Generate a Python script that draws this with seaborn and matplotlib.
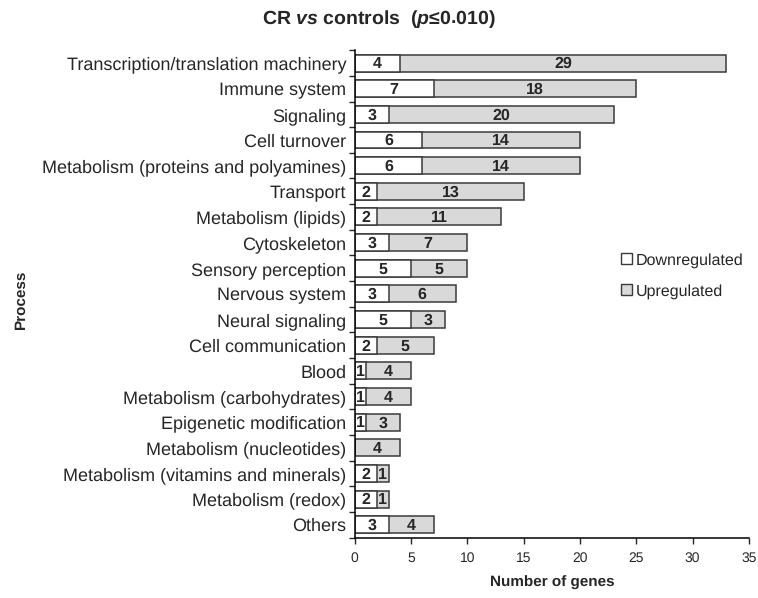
import pandas as pd
import matplotlib.pyplot as plt
import seaborn as sns
from matplotlib.patches import Patch

# Data
processes = [
    "Transcription/translation machinery", "Immune system", "Signaling",
    "Cell turnover", "Metabolism (proteins and polyamines)", "Transport",
    "Metabolism (lipids)", "Cytoskeleton", "Sensory perception",
    "Nervous system", "Neural signaling", "Cell communication", "Blood",
    "Metabolism (carbohydrates)", "Epigenetic modification",
    "Metabolism (nucleotides)", "Metabolism (vitamins and minerals)",
    "Metabolism (redox)", "Others",
]
downregulated = [4, 7, 3, 6, 6, 2, 2, 3, 5, 3, 5, 2, 1, 1, 1, 0, 2, 2, 3]
upregulated = [29, 18, 20, 14, 14, 13, 11, 7, 5, 6, 3, 5, 4, 4, 3, 4, 1, 1, 4]

df = pd.DataFrame({"Process": processes, "Down": downregulated, "Up": upregulated})
df["Total"] = df["Down"] + df["Up"]

sns.set_style("white")
plt.rcParams["font.family"] = ["Liberation Sans", "DejaVu Sans"]
plt.rcParams["text.hinting"] = "no_hinting"
plt.rcParams["mathtext.fontset"] = "custom"
plt.rcParams["mathtext.rm"] = "Liberation Sans"
plt.rcParams["mathtext.bf"] = "Liberation Sans:bold"
plt.rcParams["mathtext.it"] = "Liberation Sans:italic"
plt.rcParams["mathtext.bfit"] = "Liberation Sans:bold:italic"

fig = plt.figure(figsize=(7.58, 5.98), dpi=100)
ax = fig.add_axes([0.468, 0.101, 0.52, 0.815])

edge = "#3a3a3a"
gray = "#d9d9d9"
# full bar in gray, white downregulated part drawn over its left end
sns.barplot(data=df, y="Process", x="Total", orient="h", color=gray,
            edgecolor=edge, linewidth=1.1, width=0.66, saturation=1, ax=ax)
sns.barplot(data=df, y="Process", x="Down", orient="h", color="white",
            edgecolor=edge, linewidth=1.1, width=0.66, saturation=1, ax=ax)

for i, (d, u) in enumerate(zip(downregulated, upregulated)):
    if d > 0:
        ax.text(d / 2, i - 0.02, str(d), ha="center", va="center_baseline",
                fontsize=11.5, fontweight="bold")
    if u > 0:
        ax.text(d + u / 2, i - 0.02, str(u), ha="center", va="center_baseline",
                fontsize=11.5, fontweight="bold")

ax.set_xlim(0, 35)
ax.set_ylim(len(processes) - 0.5, -0.5)
ax.set_xticks(range(0, 36, 5))
ax.tick_params(axis="x", labelsize=10, length=4, width=1, direction="out",
               bottom=True, pad=6)
ax.tick_params(axis="y", labelsize=13, length=0, pad=6)
ax.set_yticks([i - 0.5 for i in range(len(processes) + 1)], minor=True)
ax.tick_params(axis="y", which="minor", left=True, length=4, width=1)

for s in ["top", "right"]:
    ax.spines[s].set_visible(False)
for s in ["left", "bottom"]:
    ax.spines[s].set_color("black")
    ax.spines[s].set_linewidth(1.1)

ax.set_xlabel("Number of genes", fontsize=11, fontweight="bold", labelpad=8)
ax.set_ylabel("")
fig.text(0.027, 0.5, "Process", rotation=90, ha="center", va="center",
         fontsize=11, fontweight="bold")

fig.text(0.5, 0.968, r"CR $\mathbfit{vs}$ controls  ($\mathbfit{p}$≤0.010)",
         ha="center", va="center", fontsize=14, fontweight="bold")

handles = [Patch(facecolor="white", edgecolor=edge, label="Downregulated"),
           Patch(facecolor=gray, edgecolor=edge, label="Upregulated")]
fig.legend(handles=handles, loc="center left", bbox_to_anchor=(0.8, 0.539),
           frameon=False, fontsize=11.5, handlelength=0.7, handleheight=0.7,
           handletextpad=0.25, labelspacing=1.0)

fig.savefig("out.png", dpi=100)
